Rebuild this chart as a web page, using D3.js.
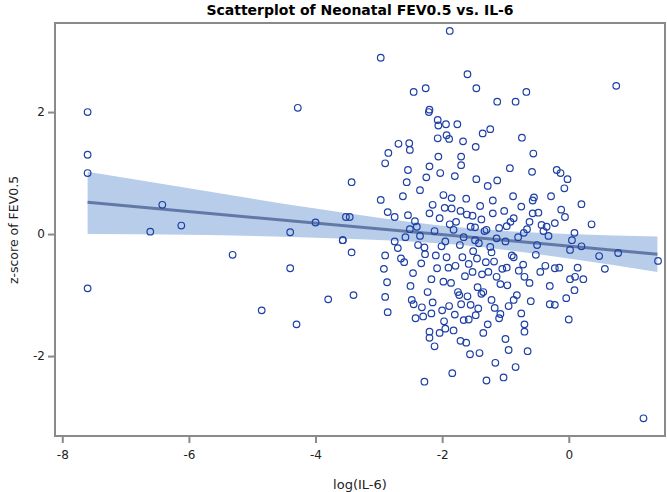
<!DOCTYPE html>
<html><head><meta charset="utf-8">
<script src="https://cdn.jsdelivr.net/npm/d3@7"></script>
<style>body{margin:0;background:#fff}svg{display:block}</style>
</head><body><svg id="chart" width="667" height="492"></svg>
<script>
// Data values (log(IL-6), z-score of FEV0.5)
const logIL6 = [
-7.6,-7.6,-7.6,-7.6,-6.42,-6.12,-6.61,-5.31,-4.28,-2.97,-1.88,-1.6,-1.13,-1.46,-2.45,-2.26,-2.2,-2.21,-2.07,-2.06,-1.94,-1.76,-1.24,-1.36,-2.07,-1.93,-1.89,-1.67,-1.47,-2.69,-2.52,-2.51,-2.85,-2.06,-1.70,0.75,-0.67,-0.84,-0.74,-0.56,
-4.85,-4.4,-4.4,-4.3,-4.0,-3.8,-3.57,-3.43,-3.4,-3.46,
-2.9,-2.54,-2.2,-2.03,-1.8,-1.7,-1.46,-1.28,-1.13,-0.93,-0.58,-0.55,-0.19,-0.13,-0.02,-0.07,-0.57,-1.85,-2.25,-2.56,
-2.97,-2.86,-2.75,-2.54,-2.51,-2.43,-2.35,-2.20,-2.04,-1.96,-1.88,-1.82,-1.71,-1.61,-1.48,-1.48,-1.38,-1.30,-1.20,-1.14,-0.98,-0.87,-0.71,-0.57,-0.43,-0.32,-0.22,-0.06,0.09,0.20,0.36,-3.52,-3.57,-3.43,
-2.9,-2.92,-2.87,-2.70,-2.60,-2.46,-2.38,-2.27,-2.17,-2.08,-2.01,-1.93,-1.86,-1.79,-1.72,-1.64,-1.58,-1.51,-1.44,-1.37,-1.31,-1.24,-1.14,-1.05,-0.97,-0.87,-0.79,-0.70,-0.52,-0.37,-0.22,0.02,0.09,0.23,0.48,0.57,0.78,0.02,0.20,0.14,
-2.9,-2.86,-2.48,-2.42,-2.32,-2.20,-2.12,-1.97,-1.89,-1.82,-1.73,-1.66,-1.55,-1.47,-1.38,-1.28,-1.17,-1.08,-0.87,-0.70,-0.22,-0.04,-0.95,
-1.84,-1.71,-1.56,-1.41,-1.30,-1.16,-1.03,-0.84,-0.65,-2.04,-2.28,-2.17,
1.41,1.18,
-2.62,-2.35,-2.15,-1.98,-1.85,-1.62,-1.52,-1.40,-1.20,-1.02,-0.88,-0.75,-0.62,-0.48,-0.40,-0.28,-0.12,0.05,
-2.75,-2.58,-2.40,-2.28,-2.12,-1.95,-1.78,-1.66,-1.55,-1.42,-1.33,-1.22,-1.10,-1.00,-0.92,-0.80,-0.66,-0.50,-0.35,
-2.65,-2.50,-2.33,-2.23,-2.10,-1.98,-1.90,-1.75,-1.68,-1.60,-1.52,-1.45,-1.35,-1.27,-1.18,-1.08,-0.98,-0.90,-0.82,-0.72,-0.62,-0.45,-0.30,-0.15,0.10,
-2.45,-2.30,-2.15,-2.00,-1.80,-1.70,-1.58,-1.43,-1.22,-1.10,-0.95,-0.75,-0.60,-0.30,0.00,
-2.20,-1.95,-1.62,-1.35,-1.00,-0.70
];
const zFEV = [
2.0,1.3,1.0,-0.89,0.48,0.14,0.04,-0.34,2.07,2.89,3.33,2.62,2.17,2.39,2.33,2.39,2.04,2.0,1.87,1.78,1.80,1.80,1.72,1.65,1.57,1.62,1.56,1.52,1.43,1.48,1.49,1.38,1.33,1.27,1.27,2.43,2.33,2.17,1.58,1.32,
-1.25,-0.56,0.03,-1.48,0.19,-1.07,-0.1,0.85,-1.0,0.28,
1.16,1.05,1.11,1.0,0.95,1.13,0.9,0.79,0.88,1.08,1.02,0.6,1.05,1.0,0.9,0.75,0.55,0.59,0.93,0.85,
0.56,0.36,0.28,0.31,0.08,0.21,-0.03,0.34,0.26,0.43,0.16,0.07,0.38,0.32,0.11,-0.1,0.24,0.07,0.34,-0.07,0.13,0.26,0.02,0.34,0.15,-0.03,0.18,0.28,0.02,0.49,0.16,0.28,-0.1,-0.3,
-0.35,-0.57,-0.79,-0.23,-0.46,-0.64,-0.18,-0.33,-0.74,-0.56,-0.2,-0.38,-0.8,-0.52,-0.18,-0.69,-0.49,-0.28,-0.87,-0.66,-0.46,-0.21,-0.7,-0.57,-0.84,-0.38,-0.6,-0.7,-0.34,-0.52,-0.56,-0.26,-0.92,-0.74,-0.36,-0.57,-0.31,-0.74,-0.2,-0.55,
-1.03,-1.28,-1.08,-1.38,-1.2,-1.6,-1.84,-1.43,-1.18,-1.58,-1.0,-1.41,-1.16,-1.33,-0.98,-1.48,-1.21,-1.31,-1.08,-1.48,-1.16,-1.05,-1.9,
-2.28,-1.75,-1.97,-1.95,-2.4,-2.11,-2.35,-2.18,-1.92,-1.62,-2.42,-1.3,
-0.44,-3.02,
0.62,0.72,0.48,0.64,0.42,0.58,0.30,0.46,0.55,0.38,0.62,0.45,0.20,0.35,0.05,0.62,0.40,-0.10,
-0.12,-0.05,0.12,-0.22,0.05,-0.12,0.20,-0.05,0.12,-0.15,0.05,-0.30,0.10,-0.12,0.20,-0.05,0.08,-0.18,0.12,
-0.40,-0.85,-0.48,-0.95,-0.35,-0.78,-0.55,-0.95,-0.38,-1.02,-0.62,-0.40,-0.95,-0.62,-0.45,-0.82,-0.55,-0.35,-1.00,-0.50,-0.80,-0.62,-0.85,-0.55,-0.70,
-1.15,-1.35,-1.12,-1.25,-1.32,-1.15,-1.40,-1.22,-1.08,-1.38,-1.18,-1.30,-1.10,-1.15,-1.40,
-1.70,-1.55,-1.78,-1.62,-1.72,-1.60
];
// Fitted regression line and 95% confidence band
const fitX = [-7.6, 1.4];
const fitY = [0.52, -0.33];
const bandX = [-7.6, -6, -4, -2, -1.7, 0, 1.4];
const bandLower = [0.0, -0.01, -0.06, -0.155, -0.18, -0.40, -0.62];
const bandUpper = [1.02, 0.75, 0.42, 0.137, 0.106, 0.0, -0.04];
const xTicks = [-8, -6, -4, -2, 0];
const yTicks = [-2, 0, 2];

const svg = d3.select("#chart");
const L = 55, R = 665, T = 23, B = 436;
const x = d3.scaleLinear().domain([-8.115, 1.52]).range([L, R]);
const y = d3.scaleLinear().domain([-3.31, 3.46]).range([B, T]);
const font = "'DejaVu Sans', sans-serif";

// band
const band = bandX.map((v, i) => ({x: v, lo: bandLower[i], hi: bandUpper[i]}));
svg.append("path").datum(band)
  .attr("fill", "#b7cde9")
  .attr("d", d3.area().x(d => x(d.x)).y0(d => y(d.lo)).y1(d => y(d.hi)).curve(d3.curveMonotoneX));
// fit line
svg.append("path").datum(fitX.map((v, i) => [v, fitY[i]]))
  .attr("fill", "none").attr("stroke", "#6279a7").attr("stroke-width", 3)
  .attr("d", d3.line().x(d => x(d[0])).y(d => y(d[1])));
// points
svg.append("g").selectAll("circle").data(logIL6.map((v, i) => [v, zFEV[i]]))
  .join("circle")
  .attr("cx", d => x(d[0])).attr("cy", d => y(d[1])).attr("r", 3.3)
  .attr("fill", "none").attr("stroke", "#1e40a6").attr("stroke-width", 1.2);

// frame
svg.append("rect").attr("x", L).attr("y", T).attr("width", R - L).attr("height", B - T)
  .attr("fill", "none").attr("stroke", "#8a8a8a").attr("stroke-width", 2);

// axes
const fmt = d => String(d);
const xa = svg.append("g").attr("transform", `translate(0,${B + 1})`)
  .call(d3.axisBottom(x).tickValues(xTicks).tickSize(6).tickSizeOuter(0).tickFormat(fmt));
const ya = svg.append("g").attr("transform", `translate(${L - 1},0)`)
  .call(d3.axisLeft(y).tickValues(yTicks).tickSize(6).tickSizeOuter(0).tickFormat(fmt));
[xa, ya].forEach(g => {
  g.select(".domain").remove();
  g.selectAll(".tick line").attr("stroke", "#8a8a8a").attr("stroke-width", 2);
  g.selectAll("text").attr("font-family", font).attr("font-size", 12).attr("fill", "#222");
});
xa.selectAll("text").attr("dy", "1.1em");

// titles
svg.append("text").attr("x", 360).attr("y", 15).attr("text-anchor", "middle")
  .attr("font-family", font).attr("font-weight", "bold").attr("font-size", 14).attr("fill", "#000")
  .text("Scatterplot of Neonatal FEV0.5 vs. IL-6");
svg.append("text").attr("x", 360).attr("y", 489).attr("text-anchor", "middle")
  .attr("font-family", font).attr("font-size", 13).attr("fill", "#222")
  .text("log(IL-6)");
svg.append("text").attr("transform", "translate(18,230) rotate(-90)").attr("text-anchor", "middle")
  .attr("font-family", font).attr("font-size", 12.5).attr("fill", "#222")
  .text("z-score of FEV0.5");
</script></body></html>
